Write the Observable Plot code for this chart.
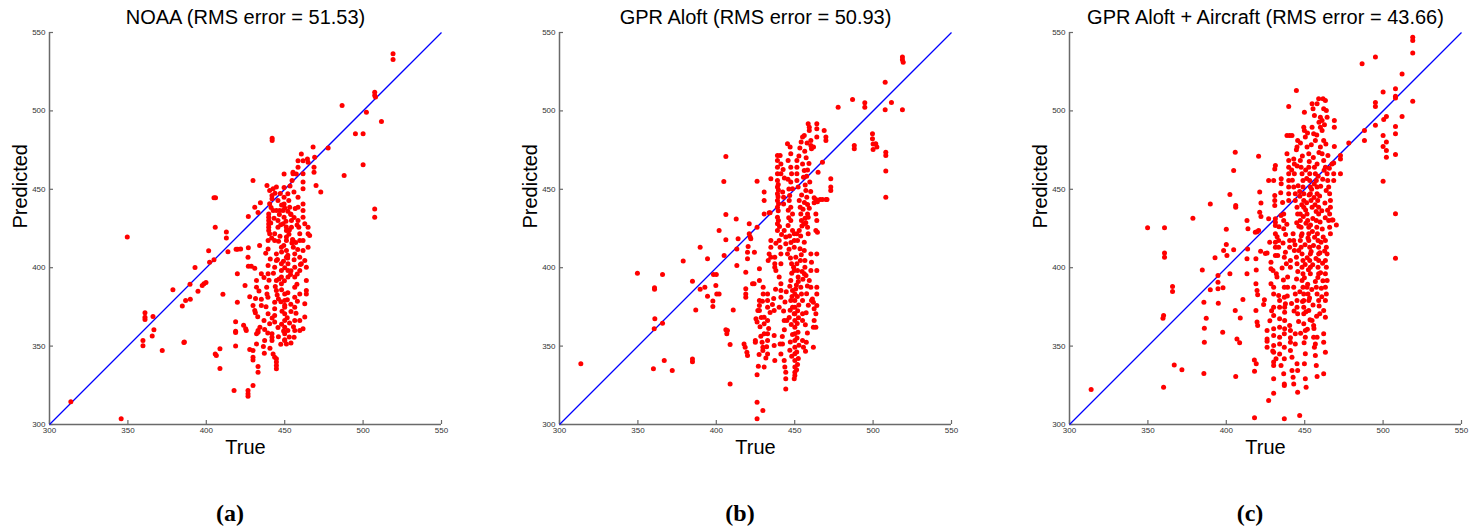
<!DOCTYPE html>
<html>
<head>
<meta charset="utf-8">
<script src="https://cdn.jsdelivr.net/npm/d3@7"></script>
<script src="https://cdn.jsdelivr.net/npm/@observablehq/plot@0.6"></script>
<style>
  html, body { margin: 0; padding: 0; background: #fff; }
  #wrap { width: 1482px; height: 527px; overflow: hidden; }
</style>
</head>
<body>
<div id="wrap"></div>
<script>
// ---------- data ----------
const titles = ["NOAA (RMS error = 51.53)", "GPR Aloft (RMS error = 50.93)", "GPR Aloft + Aircraft (RMS error = 43.66)"];
const captions = ["(a)", "(b)", "(c)"];
const xLabel = "True";
const yLabel = "Predicted";
const axisDomain = [300, 550];
const tickValues = [300, 350, 400, 450, 500, 550];

// [true, predicted] pairs
const noaaPoints = [
[313.6,314.5],[345.7,303.6],[349.6,419.5],[359.6,353.6],[359.6,350.2],[360.9,371.2],[360.9,368.4],[360.9,367],[366,368.9],[366.6,360.4],[365.5,356.5],[371.9,347.2],[378.7,385.9],[384.7,375.5],[386.8,379.1],[385.7,352.3],[386,352.6],[389.8,379.9],[389.6,389.5],[392.8,400.1],[394.7,385],[397.4,388.6],[398.5,389.7],[399.8,390.6],[401.5,410.8],[402.1,403.5],[404.9,405],[404.9,444.6],[405.9,444.6],[405.7,425.8],[405.7,345],[406.4,344],[408.7,348.3],[408.7,335.7],[410.6,383.1],[412.8,422.8],[412.8,419],[413.8,410.1],[417.7,321.7],[418.7,365.5],[418.7,359.5],[418.7,358.7],[418.7,350],[419.8,396.1],[419.8,378],[419,411.8],[420,411.8],[421.9,412],[423.8,363.3],[425.1,361],[425.5,359.9],[424.7,388.6],[426.8,432.7],[426.8,412.7],[426.6,406.7],[426.8,401],[428.7,401],[430.9,399.7],[427.7,381.4],[427.7,347.8],[426.6,321.7],[426.6,319.6],[426.6,318],[429.8,455.6],[429.8,324.9],[429.8,347.2],[429.8,342.9],[429.8,341.2],[429.8,375.9],[430.9,372.7],[431.3,371.2],[430.9,438.6],[432,357.8],[432,351.4],[432,387.6],[432,391.9],[433,435.2],[433,359.9],[433,358.9],[433,337],[433,333.4],[434,414.2],[434.5,441.4],[435.1,396.1],[435.1,379.9],[435.1,375.9],[437,345.5],[436.8,366.4],[437.2,360.6],[437.2,353.6],[438.5,387.6],[438.7,383.3],[439.3,381.2],[438.7,452.4],[440.4,440.8],
[439.8,434.3],[439.8,432.2],[439.8,430.1],[439.8,427.9],[439.8,425.8],[439.8,423.7],[440.4,421.6],[439.4,417.3],[439.4,412],[439.4,401.4],[439.4,396.1],[439.4,370.6],[440.4,364.2],[442,482.6],[442,481.1],[440.4,449.2],[442.6,450.3],[444.7,451.4],[441.9,446],[441.9,443.9],[442.6,436.5],[444.7,436.5],[446.8,436.5],[448.9,436.5],[441.9,357.8],[441.9,355.7],[441.9,353.6],[442.6,345],[443.6,342.9],[444.7,341.9],[444.7,339.8],[444.7,337.6],[444.7,335.5],[443.6,378],[443.6,373.8],[443.6,369.5],[443.6,365.3],[444.7,391.9],[444.7,385.4],[443.6,400.3],[444.7,408.8],[444.7,404.6],[443.6,421.6],[443.6,417.3],[445.7,430.1],[445.7,425.8],[445.7,442.9],[447.9,413.1],[447.9,402.5],[447.9,398.2],[447.9,394],[447.9,389.7],[449.6,459.7],[449.6,451.2],[449.6,445],[449.6,440.7],[449.6,432.2],[450,383.3],[450,379.1],[450,374.8],[450,370.6],[450,366.3],[450,362.1],[450,357.8],[450,353.6],[451.1,351.4],[451.1,423.7],[451.1,419.5],[451.1,417.3],[451.1,411],[451.1,406.7],[452.1,402.5],[452.1,398.2],[452.1,394],[452,447.1],[452.6,442.9],[453.2,438.6],[453.8,434.3],[454.3,430.1],[454.3,425.8],[454.7,455.6],[455.3,460.9],[455.3,459.9],[455.3,417.3],[455.5,413.1],[456.4,408.8],[456.4,400.3],[456.4,394],[456.4,387.6],[456.4,381.2],[456.4,374.8],[456.4,366.3],[456.4,359.9],[456,355.7],[457.4,459.7],[458.5,468.2],[458.5,464],[458.5,445],[458.5,438.6],[458.5,430.1],[459,425.8],[459.6,421.6],[459.6,417.3],[459.6,406.7],[460.6,402.5],[459.6,398.2],[459.6,383.3],[459.6,366.3],[459.6,359.9],[460.6,472.5],[461.7,468.2],[461.7,459.9],[461.7,454.6],[461.7,450.3],[461.7,440.7],[461.7,436.5],[461.7,432.2],[462.8,428],[461.7,417.3],[461.7,411],[462.8,404.6],[463.8,400.3],[461.7,361],[462.8,377],[462.8,368.5],[463.8,391.9],[463.8,385.4],[463.8,383.3],[464.9,413.1],[464.9,421.6],[465.9,420.5],[464.9,425.8],[464.5,469.3],[464.9,467.2],[468.1,476.9],[468.7,464.1],[468.7,460.9],[469.1,470.5],[470,452.4],[473,448.2],[477.7,476.4],[486.6,503.4],[487.9,458.8],[495.1,485.4],[500,485.4],[500,465.6],[502.1,499.2],[507.4,511.9],[507.4,509.8],[507.9,508.8],[507.4,437.5],[507.4,432.2],[511.7,493.2],[519.1,536.4],[519.1,532.8],
[448,440],[450,438],[452,436],[454,434],[456,432],[449,428],[451,426],[453,424],[447,420],[455,418],[457,416],[448,410],[452,408],[456,405],[460,402],[450,400],[454,398],[458,396],[440,392],[444,388],[448,386],[452,384],[446,380],[450,376],[454,372],[442,368],[448,364],[452,360],[446,356],[450,354],[454,352],
[441.3,438.4],[443.2,431.6],[446.6,433.9],[447.5,427.4],[450.8,429.7],[452.7,421.3],[454.6,415.8],[449.4,414.2],[446.1,416.9],[445.4,405.3],[449.2,404.1],[451.9,406.2],[453.7,395.6],[449.8,391.7],[446.4,392.8],[442.8,396.4],[445.2,382.6],[447.6,378.3],[451.7,379.6],[453.9,376.7],[448.3,372.2],[451.6,368.1],[453.1,364.8],[449.3,359.6],[445.7,361.9],[447.5,351.2],[452.9,355.8],[455.6,362.4],[457.2,370.9],[458.1,378.6],[457.8,389.4],[458.3,411.6],[457.9,427.3],[456.7,437.8],[455.9,448.2],[453.4,452.1],[447.2,447.3],[443.8,447.5],[441.1,428.5],[441.7,418.9],[440.8,405.6],[437.9,409.2],[436.8,393.8],[438.1,375.1],[439.2,358.4],[440.6,348.7],[436.4,349.8],[434.2,362.1],[432.8,368.7],[431.4,380.4],[433.6,385.2]
];

const aloftPoints = [
[313.6,338.7],[349.7,396.5],[359.9,335.5],[360.4,361],[360.6,387.2],[360.6,386.3],[360.8,367.4],[365.7,364.6],[365.7,395.7],[366.8,340.8],[371.9,334.4],[378.9,404.2],[384.8,391.4],[384.8,341.7],[384.8,340],[386.9,373.1],[389.7,413.1],[389.7,386.3],[392.7,387.6],[394.4,405.7],[394.4,381.8],[397.8,378.7],[397.8,375.3],[398.2,395.7],[400,395.7],[399.7,388.6],[400.3,383.3],[401.8,383.3],[401.8,423.7],[405,407.8],[404.8,455],[406.1,470.9],[406.1,433.9],[406.1,417.8],[406.1,360.4],[406.7,357.8],[407.1,359.9],[408.8,351],[408.8,325.9],[410.8,373.1],[412.7,431],[413.1,401.4],[413.1,412],[413.9,418.4],[418.8,397.1],[418.8,386.5],[418.8,383.3],[418.8,381.2],[417.7,351.4],[418.4,349.3],[419.5,346.1],[419.9,344],[419.9,405.7],[419.9,409.9],[420.3,413.5],[421,428],[421,421.6],[421.6,419.5],[422,418.4],[423.1,389.7],[424.1,389.7],[424.3,409.9],[424.9,353.6],[424.9,352.5],[425.3,367.4],[426,365.3],[426,455.2],[426,425.8],[426,331.7],[426,314.2],[426,303.6],[426.5,372.7],[427.5,372.7],[427.5,399.3],[427.5,391.8],[427.5,379.1],[427.5,375.9],[429.7,308.9],[429.9,387.6],[429.9,383.3],[429.7,349.3],[429.7,347.2],[430.5,336.6],[430.5,368.4],[430.5,364.2],[430.5,357.8],[430.5,442.9],[430.5,434.3],[430.5,448.2],[432.7,383.3],[432.7,379.1],[432.7,374.8],[432.7,366.3],[432.7,357.8],[432.7,353.6],[432.7,345],[433.1,404.6],[433.7,408.8],[434.8,406.7],[433.7,435],[434.3,435],[434.8,456.7],[434.8,417.3],[434.8,413.1],[436.9,350.4],[437.3,340.8],[436.9,372.7],[436.9,356.8],[437.3,406.7],[437.3,402.5],[437.3,400.3],[438,398.2],[438,415.6],
[439,471.5],[439,468.4],[439,464.1],[439,459.9],[439,455.6],[439,451.4],[439,447.1],[439,442.9],[439,438.6],[439,432.2],[439,428],[439,423.7],[440.7,471.5],[441.2,466.2],[441.2,459.9],[440.1,417.3],[440.7,413.1],[441.2,408.8],[441.2,402.5],[440.1,394],[441.2,389.7],[441.2,385.4],[441.2,381.2],[440.1,374.8],[440.7,351.4],[441.2,345],[442.2,351.4],[443.3,340.8],[443.7,336.6],[444.3,333.4],[444.3,329.1],[444.3,322.7],[443.3,366.3],[445,366.3],[442.9,445],[442.9,440.7],[443.3,423.7],[444.3,419.5],[444.3,415.2],[445.4,408.8],[445.8,468.4],[445.4,479],[447.1,476.9],[447.5,472.6],[447.5,464.1],[448,459.9],[447.5,454.6],[448.6,450.3],[446.5,442.9],[447.5,438.6],[448.6,434.3],[447.5,430.1],[448.6,423.7],[449.7,421.6],[449.7,417.3],[449.7,413.1],[448,402.5],[449.3,400.3],[449.7,398.2],[447.5,391.8],[448.6,385.4],[447.5,379.1],[448.6,374.8],[449.7,370.6],
[450.1,383.3],[450.1,379.1],[450.1,374.8],[450.1,370.6],[450.1,366.3],[450.1,362.1],[450.1,357.8],[450.1,353.6],[450.1,349.3],[450.1,345.1],[450.1,340.8],[450.1,336.6],[450.1,333.4],[450.1,331.3],[449.7,329.1],[450.7,406.7],[451.4,402.5],[451.8,398.2],[452.2,394],[451.4,421.6],[451.8,417.3],[452.9,423.7],[451.4,468.4],[451.4,464.1],[451.4,459.9],[451.4,455.6],[452.2,451.4],[452.9,442.9],[453.5,438.6],[453.9,434.3],[454.3,430.1],[453.9,387.6],[454.3,383.3],[455,379.1],[455,370.6],[455,366.3],[455,353.6],[455.6,349.3],[455,466.2],[456.1,462],[455.6,457.7],[456.1,416.2],[456.1,411],[456.5,404.6],[456.5,400.3],[456.1,396.1],[455,483.3],[456.1,484.3],[457.1,449.2],[457.7,445],[458.2,440.3],[458.2,434.3],[458.2,425.8],[458.6,421.6],[458.6,491.8],[459.3,489.6],[459.3,487.5],[460.3,481.1],[460.3,477.9],[460.7,475.8],[462,476.9],[459.3,391.8],[460.3,387.6],[460.7,379.1],[461.3,380.1],[461.9,378],[462.4,373.8],[462.4,366.3],[461.9,362.1],[461.9,349.3],[460.3,408.8],[460.7,403.5],[460.3,398.2],[462.4,444.6],[462.4,441.4],[463.5,443.5],[464.5,442],[463.5,434.3],[464.1,430.1],[463.5,423.7],[464.1,491.8],[464.1,488.6],[464.1,483.3],[464.1,408.8],[464.1,398.2],[464.1,387.6],[464.1,383.3],[464.1,375.9],[463.5,370.6],[463.5,362.1],[464.9,460.8],[464.5,422.6],[466.2,443.5],[467.7,443.5],[467.7,467.3],[468.8,487.5],[469.9,483.3],[469.9,481.1],[470,443.5],[470.6,443.5],[473,456.7],[473,451.4],[473,449.2],
[477.7,502.4],[486.9,507.3],[488,477.9],[488,475.8],[494.7,505.2],[494.7,502.4],[499.6,485.4],[499.6,482.2],[500,478.9],[500,475.4],[501.7,479],[502.4,476.9],[507.7,518.3],[507.7,500.7],[508.1,473.7],[508.1,471.5],[508.1,461.6],[508.1,445],[511.7,505.3],[518.7,534.3],[518.7,532.6],[519.2,531.1],[518.7,500.7],
[439.5,453.1],[439.6,449.5],[439.4,445.2],[439.7,440.8],[439.5,436.3],[439.6,430.1],[440.3,426.2],[441.6,421.1],[442.3,448.3],[443.4,457.2],[442.6,462.6],[445.7,456.4],[446.3,450.2],[446.8,446.1],[445.9,436.6],[446.2,431.8],[445.8,426.9],[446.7,420.2],[447.6,416.1],[446.4,411.8],[447.3,406.2],[448.1,396.4],[446.9,388.1],[448.3,381.6],[447.1,372.8],[446.5,368.2],[447.8,363.7],[448.6,357.4],[447.2,352.6],[446.9,347.3],[448.1,343.6],[450.6,386.4],[451.1,388.9],[452.3,391.2],[451.7,381.7],[452.6,376.2],[451.9,372.5],[452.4,368.1],[451.6,364.4],[452.1,358.9],[451.5,355.1],[452.7,350.6],[451.3,346.2],[452.3,342.1],[451.8,338.3],[451.2,334.9],[453.4,412.1],[454.2,408.2],[453.6,404.6],[454.7,397.5],[455.2,392.6],[453.8,420.2],[454.6,426.6],[455.8,427.8],[456.6,431.6],[457.1,428.6],[455.3,437.3],[456.2,441.6],[454.4,446.3],[456.7,452.8],[457.6,458.4],[458.2,462.3],[459.1,466.4],[457.3,470.1],[456.4,474.2],[457.9,479.6],[452.7,471.3],[453.3,476.4],[454.1,480.2],[459.6,454.7],[460.2,448.6],[459.3,437.9],[458.6,432.1],[457.2,395.1],[458.1,388.4],[457.6,383.4],[458.7,376.1],[457.3,371.2],[456.8,363.6],[458.1,358.3],[457.4,352.4],[456.9,346.7],[444.6,384.7],[443.8,378.2],[442.9,372.4],[443.4,360.4],[442.1,356.2],[437.8,386.2],[436.6,380.3],[435.8,376.6],[434.3,371.4],[433.4,361.3],[432.1,349.6],[431.6,342.4],[429.4,378.6],[428.7,368.2],[427.9,362.4],[428.4,356.3],[429.2,352.4],[427.3,344.7],[426.8,337.1]
];

const aircraftPoints = [
[313.8,322.3],[349.8,425.4],[359.6,367.8],[360,369.5],[360,323.8],[360.6,425.4],[360.6,409.3],[360.6,406.7],[365.7,388],[365.7,384.8],[366.8,338],[371.7,334.9],[378.7,431.6],[384.7,398.6],[385.7,378],[386,361.4],[386,352.5],[385.7,332.5],[387.2,367.8],[389.8,440.7],[389.8,385.9],[392.8,406.3],[394.7,395],[394.7,390.8],[394.7,386.5],[394.9,377.4],[398.3,410.9],[397.9,387.2],[397.7,358.9],[400,424.6],[400,414.8],[400.4,407.8],[402.3,396.1],[402.3,446.7],[404.7,411.4],[404.7,462],[405.7,473.7],[406,439.7],[406,438.6],[405.7,372.7],[406,330.6],[406.8,354.6],[408.5,352.1],[408.9,368],[410.6,379.7],[413.2,430.1],[413.8,424.8],[413.6,412],[413.2,405.7],[413.2,396.1],[418.5,422.6],[419.6,423],[420.6,423.7],[418.9,405.7],[419.1,398.6],[418.9,389.7],[419.6,385.5],[420,382.7],[418.9,372.7],[419.6,365.3],[420,363.1],[417.9,341.2],[419.1,338.7],[418,334],[418,304.3],[420.6,471.1],[421.3,448.2],[421.3,435.4],[422.1,441.2],[422.1,432.7],[421.9,410.5],[424.3,379.5],[423.8,376.5],[424.9,409],[426,409.3],[426,360],[426,354.6],[426,353.1],[426,349.3],[427,315.3],[427,455.6],[427,431.2],[427.7,416.3],[428.5,399.3],[428.5,403.5],[428.5,389.7],
[430.2,387.6],[430.2,383.3],[430.2,374.8],[430.2,369.5],[430.2,361],[430.2,356.8],[430.2,350.4],[430.2,346.1],[430.2,339.8],[430.2,337.6],[430.2,329.1],[430.2,320],[431.3,465.2],[430.9,463],[430.2,455.6],[430.9,446],[430.9,442.9],[430.9,439.7],[431.3,431.2],[431.3,429],[431.3,426.9],[431.3,421.6],[431.3,416.3],[431.3,413.1],[431.3,407.8],[431.9,396.1],[432.3,394],[432.8,407.8],[433.4,413.1],[433.4,417.3],[433.4,382.3],[434,379.1],[434,374.8],[434,367.4],[434,362],[434,355.7],[434,351.4],[434,345],[434.9,337.6],[436.6,332.3],[437,325.9],[434.9,433.3],[436.6,434.3],[435,456.7],[435,453.5],[436.6,430.1],[436.6,424.8],[437,406.7],[437.7,409.9],[438.3,402.5],[437,387.6],[437,381.2],[437.7,377],[437.2,374.8],[437.2,371.6],[437.2,366.3],[437.2,361],[437,341.9],[437,324.9],[437,303.6],[437,357.8],[437,349.3],
[438.7,472.6],[439.8,502.8],[438.7,484.3],[440.4,484.3],[441.9,484.3],[439.8,468.4],[439.8,464.1],[439.8,459.9],[439.8,455.6],[439.8,451.4],[439.8,447.1],[439.8,442.9],[440.4,417.3],[440.4,413.1],[440.9,404.6],[440.9,400.3],[439.1,394],[439.1,387.6],[440.4,363.1],[440.9,360],[440.9,355.3],[440.9,352.5],[440.9,347.2],[441.9,342.9],[441.9,334.4],[442.6,330.2],[443,325.9],[443,469.4],[443.4,466.2],[443.4,459.9],[443,451.4],[444,447.1],[444,442.9],[445.1,438.6],[445.5,434.3],[442.6,421.6],[443,417.3],[443.4,411],[444.7,406.7],[445.1,402.5],[443,387.6],[444,383.3],[445.1,379.1],[445.1,374.8],[445.5,370.6],[444,357.8],[444,351.4],[444.7,475.2],[445.1,476.9],[445.5,481.1],[444.7,513],[445.1,338.7],[445.5,334.4],[445.5,320.6],[446.8,305.7],
[447.2,434.3],[447.2,430.1],[447.7,425.8],[448.3,421.6],[447.2,417.3],[447.7,413.1],[448.3,408.8],[448.9,404.6],[448.3,400.3],[448.9,396.1],[448.3,391.8],[448.9,387.6],[449.4,383.3],[449.4,379.1],[449.4,374.8],[449.4,370.6],[447.2,468.4],[447.7,464.1],[448.3,459.9],[448.9,455.6],[448.9,451.4],[449.4,447.1],[449.4,442.9],[449.4,438.6],[449.4,489.6],[449.8,487.5],[450.4,483.3],[449.8,499.2],[449.4,364.2],[450.4,360],[450.4,355.7],[450.4,345.1],[449.8,338.7],[450.4,329.1],[450.9,323.8],
[451.5,434.3],[451.9,430.1],[452.6,425.8],[452.6,421.6],[452.6,417.3],[453.2,413.1],[453.6,408.8],[453.2,404.6],[453.6,400.3],[453.6,396.1],[451.5,387.6],[452.1,383.3],[452.6,379.1],[452.6,372.7],[451.5,476.9],[452.6,472.6],[452.6,464.1],[453.2,459.9],[453.2,455.6],[453.6,451.4],[453.6,447.1],[454,442.9],[454.7,438.6],[454.7,504.5],[455.3,501.3],[456.2,497.1],[454.7,489.6],[455.7,485.4],[456.8,481.1],[454.7,366.3],[455.7,363.1],[455.7,355.7],[456.8,351.4],[456.2,349.3],[456.8,344],[457.9,355.7],[457.4,337.6],[457.9,330.6],[456.2,464.1],[456.8,459.9],[457.4,455.6],[457.9,451.4],[457.9,447.1],[458.3,442.9],[458.9,438.6],[458.9,434.3],[457.4,430.1],[457.7,425.8],[458.1,421.6],[458.5,417.3],[458.9,413.1],[458.9,408.8],[458.9,404.6],[458.5,400.3],[458.9,396.1],[457.4,387.6],[457.9,383.3],[458.9,379.1],[459.6,370.6],[458.9,507.7],[457.9,504.5],[460,496],[461.1,493.9],[461.7,507.7],[463.2,506.6],[462.1,501.3],[463.8,500.3],[464.3,496],[460,489.6],[461.1,487.5],[462.1,481.1],[460,476.9],
[461.1,472.6],[462.1,468.4],[463.2,464.1],[464.3,459.9],[464.7,455.6],[465.3,451.4],[465.9,447.1],[466.4,442.9],[466.4,438.6],[465.9,434.3],[465.3,430.1],[465.9,425.8],[466.4,421.6],[463.2,417.3],[463.8,413.1],[464.3,408.8],[463.2,404.6],[463.8,400.3],[463.2,396.1],[464.3,391.8],[463.2,387.6],[463.8,383.3],[463.2,379.1],[462.1,372.7],[463.2,368.4],[462.1,357.8],[462.1,352.5],[463.2,346.1],[462.1,332.3],[467.4,466.2],[468.5,459.9],[468.5,455.6],[467.4,430.5],[468,430.5],[468.9,493.9],[468.9,489.6],[468.9,477.3],[468.5,466.7],[470.2,427.3],[472.8,471.5],[472.8,469.4],[472.8,459.9],
[478.1,479.6],[486.6,530],[488.1,487.5],[488.1,481.1],[495.1,534.3],[495.1,505.4],[495.1,502.8],[495.1,490.9],[500,512],[500.4,494.5],[500,484.3],[500,477.3],[500,455.2],[502.1,496.4],[502.1,480.1],[502.1,474.7],[502.1,470.5],[507.9,514.1],[507.9,509.4],[507.9,508.3],[507.9,490],[507.9,485.4],[507.9,472.2],[507.9,434.4],[507.9,406.1],[512.1,523.6],[512.1,496.4],[518.9,547],[518.9,544.9],[518.9,537],[518.9,506.2],
[445.8,452.3],[446.9,445.6],[448.1,440.2],[450.6,436.8],[451.2,441.5],[452.8,446.3],[454.4,450.1],[455.9,444.7],[456.6,440.1],[457.3,435.9],[455.2,431.4],[453.7,427.2],[450.8,428.3],[449.1,432.7],[446.3,426.5],[447.8,420.4],[450.2,414.6],[452.1,418.9],[454.9,423.1],[456.3,419.4],[455.6,414.2],[454.1,410.3],[451.6,406.4],[450.3,402.1],[452.4,398.7],[455.1,401.9],[457.2,405.8],[459.7,409.6],[460.4,416.2],[461.2,424.7],[459.8,429.2],[460.9,436.3],[459.5,445.8],[460.2,451.9],[458.6,458.3],[456.1,453.4],[451.3,456.9],[450.6,462.3],[452.9,467.8],[455.5,470.3],[457.9,466.2],[459.1,473.4],[449.8,393.6],[451.9,389.5],[454.5,386.1],[456.8,391.2],[458.4,393.8],[460.6,386.9],[453.1,380.7],[455.3,376.2],[450.8,371.9],[448.6,378.4],[446.9,384.7],[444.8,392.8],[445.6,397.6],[446.2,410.9],[443.8,414.6],[444.9,428.7],[446.8,448.6],[442.1,455.8],[441.7,462.3],[445.2,464.9],[448.5,471.2],[447.3,479.6],[451.8,485.9],[454.2,478.4],[457.7,484.6],[459.1,492.7],[462.6,491.2],[463.5,478.9],[464.8,471.6],[465.7,463.4],[462.4,462.1],[461.5,456.4],[463.7,449.2],[462.9,441.3],[464.6,436.6],[463.1,431.8],[461.8,419.6],[462.7,410.7],[461.4,402.9],[460.1,396.8],[461.6,391.6],[460.9,381.4],[459.2,375.6],[457.6,369.1],[455.9,361.2],[453.4,366.8],[451.7,360.7],[449.6,352.1],[447.4,358.2],[446.1,365.7],[443.2,372.4],[441.6,377.2],[438.9,381.9],[436.4,392.1],[435.6,399.8],[436.2,415.8],[437.8,421.2],[438.6,427.7],[435.9,441.6],[434.7,447.8],[433.6,426.1],[432.4,419.8],[429.8,398.2],[428.9,372.6],[427.8,366.2],[429.6,346.8],[431.7,341.9]
];

const panelPoints = [noaaPoints, aloftPoints, aircraftPoints];

// ---------- tables built from the arrays ----------
const dots = panelPoints.flatMap((pts, i) => pts.map(([t, p]) => ({panel: captions[i], t, p})));
const panelRows = captions.map((c, i) => ({panel: c, title: titles[i], caption: c}));
const diagRows = captions.map(c => ({panel: c, a: axisDomain[0], b: axisDomain[1]}));

const font = "'Liberation Sans', Arial, Helvetica, sans-serif";
const axisGray = "#6a6a6a";

const chart = Plot.plot({
  width: 1482,
  height: 527,
  marginLeft: 48,
  marginRight: 21,
  marginTop: 32,
  marginBottom: 103,
  style: {fontFamily: font, background: "#fff", overflow: "visible"},
  fx: {domain: captions, paddingInner: 0.2321, paddingOuter: 0, axis: null, label: null},
  x: {domain: axisDomain, axis: null},
  y: {domain: axisDomain, axis: null},
  marks: [
    Plot.ruleY(panelRows, {fx: "panel", y: () => axisDomain[0], stroke: axisGray, strokeWidth: 1.5}),
    Plot.ruleX(panelRows, {fx: "panel", x: () => axisDomain[0], stroke: axisGray, strokeWidth: 1.5}),
    Plot.axisX(tickValues, {anchor: "bottom", facetAnchor: null, tickSize: -4, tickPadding: 7, fontSize: 8, stroke: axisGray, fill: "#333", label: null, strokeWidth: 1.2}),
    Plot.axisY(tickValues, {anchor: "left", facetAnchor: null, tickSize: -4, tickPadding: 8, fontSize: 8, stroke: axisGray, fill: "#333", label: null, strokeWidth: 1.2}),
    Plot.link(diagRows, {fx: "panel", x1: "a", y1: "a", x2: "b", y2: "b", stroke: "#0000ff", strokeWidth: 1.3}),
    Plot.dot(dots, {fx: "panel", x: "t", y: "p", r: 2.5, fill: "#ff0000", stroke: null}),
    Plot.text(panelRows, {fx: "panel", text: "title", frameAnchor: "top", dy: -9, lineAnchor: "bottom", fontSize: 20, fill: "#000"}),
    Plot.text(panelRows, {fx: "panel", text: () => xLabel, frameAnchor: "bottom", dy: 29, lineAnchor: "bottom", fontSize: 20, fill: "#000"}),
    Plot.text(panelRows, {fx: "panel", text: () => yLabel, frameAnchor: "left", dx: -23, rotate: -90, lineAnchor: "bottom", fontSize: 20, fill: "#000"}),
    Plot.text(panelRows, {fx: "panel", text: "caption", frameAnchor: "bottom", dy: 96, dx: -15.5, lineAnchor: "bottom", fontSize: 24, fontWeight: "bold", fontFamily: "'Liberation Serif', 'Times New Roman', serif", fill: "#000"})
  ]
});
document.getElementById("wrap").appendChild(chart);
</script>
</body>
</html>
